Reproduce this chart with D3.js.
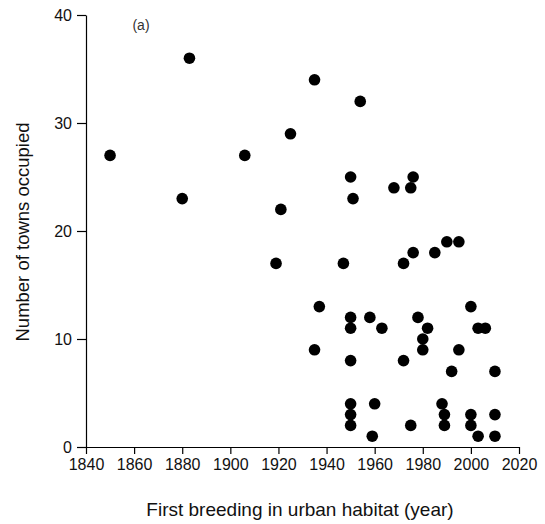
<!DOCTYPE html>
<html>
<head>
<meta charset="utf-8">
<script src="https://cdnjs.cloudflare.com/ajax/libs/d3/7.8.5/d3.min.js"></script>
<style>
  body { margin: 0; background: #fff; }
  svg text { font-family: "Liberation Sans", Arial, sans-serif; }
</style>
</head>
<body>
<script>
// first breeding year in urban habitat and number of towns occupied
var years = [1850, 1880, 1883, 1906, 1919, 1921, 1925, 1935, 1935, 1937,
  1947, 1950, 1950, 1950, 1950, 1950, 1950, 1950, 1951, 1954,
  1958, 1959, 1960, 1963, 1968, 1972, 1972, 1975, 1975, 1976,
  1976, 1978, 1980, 1980, 1982, 1985, 1988, 1989, 1989, 1990,
  1992, 1995, 1995, 2000, 2000, 2000, 2003, 2003, 2006, 2010,
  2010, 2010];
var towns = [27, 23, 36, 27, 17, 22, 29, 34, 9, 13,
  17, 25, 12, 11, 8, 4, 3, 2, 23, 32,
  12, 1, 4, 11, 24, 17, 8, 24, 2, 25,
  18, 12, 10, 9, 11, 18, 4, 3, 2, 19,
  7, 19, 9, 13, 3, 2, 11, 1, 11, 7,
  3, 1];
var xTicks = [1840, 1860, 1880, 1900, 1920, 1940, 1960, 1980, 2000, 2020];
var yTicks = [0, 10, 20, 30, 40];

var data = years.map(function(d, i) { return {year: d, n: towns[i]}; });

var svg = d3.select('body').append('svg')
  .attr('width', 545)
  .attr('height', 524);

var x = d3.scaleLinear().domain([1840, 2020]).range([86, 519]);
var y = d3.scaleLinear().domain([0, 40]).range([447, 15]);

svg.append('g')
  .attr('transform', 'translate(0,447)')
  .call(d3.axisBottom(x).tickValues(xTicks).tickSize(7).tickPadding(5).tickSizeOuter(0).tickFormat(d3.format('d')));

svg.append('g')
  .attr('transform', 'translate(86,0)')
  .call(d3.axisLeft(y).tickValues(yTicks).tickSize(9).tickPadding(5).tickSizeOuter(0));

svg.selectAll('.domain, .tick line').attr('stroke', '#000').attr('stroke-width', 1.2);
svg.selectAll('.tick text').style('font-size', '16px').attr('fill', '#111');

svg.append('g')
  .selectAll('circle')
  .data(data)
  .enter().append('circle')
    .attr('cx', function(d) { return x(d.year); })
    .attr('cy', function(d) { return y(d.n); })
    .attr('r', 5.8)
    .attr('fill', '#000');

svg.append('text')
  .attr('x', 300)
  .attr('y', 516)
  .attr('text-anchor', 'middle')
  .style('font-size', '19px')
  .attr('fill', '#111')
  .text('First breeding in urban habitat (year)');

svg.append('text')
  .attr('transform', 'translate(29,232) rotate(-90)')
  .attr('text-anchor', 'middle')
  .style('font-size', '18.5px')
  .attr('fill', '#111')
  .text('Number of towns occupied');

svg.append('text')
  .attr('x', 141)
  .attr('y', 30)
  .attr('text-anchor', 'middle')
  .style('font-size', '14px')
  .attr('fill', '#333')
  .text('(a)');
</script>
</body>
</html>
